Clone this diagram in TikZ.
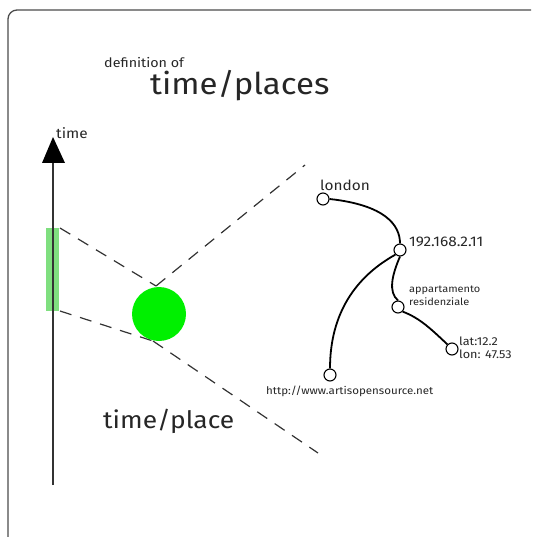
\documentclass[tikz,border=0pt]{standalone}
\usepackage{fontspec}
\setmainfont[FakeStretch=1.1]{Fira Sans}
\begin{document}
\begin{tikzpicture}[x=1pt,y=-1pt,
  frame/.style={draw=black!70, line width=1.3pt},
  guide/.style={draw=black!80, line width=1.2pt, dash pattern=on 12pt off 9pt},
  link/.style={draw=black, line width=1.8pt},
  place/.style={circle, draw=black, line width=1.1pt, fill=white, minimum size=12pt, inner sep=0pt},
  lbl/.style={inner sep=0pt, anchor=base west, text=black!85}]
\useasboundingbox (0,0) rectangle (536,537);
\draw[frame, rounded corners=9pt] (8,537) -- (8,10) -- (531,10);

% titles
\node[lbl, font=\fontsize{13}{15}\selectfont] (def) at (104,68) {definition of};
\node[lbl, font=\fontsize{30}{34}\selectfont] (title) at (150,95) {time/places};

% time axis
\coordinate (axisbot) at (53,485);
\coordinate (axistop) at (53,160);
\fill[green!75!black, opacity=0.5] (46,228) rectangle (59,311);
\draw[line width=2pt, black!80] (axisbot) -- (axistop);
\fill[black] (42,163) -- (53,137) -- (65,163) -- cycle;
\node[lbl, font=\fontsize{14}{16}\selectfont] (timelbl) at (56,139) {time};

% dashed projection
\coordinate (rt) at (60,228);
\coordinate (rb) at (60,311);
\coordinate (ct) at (156,286);
\coordinate (cb) at (153,341);
\coordinate (far1) at (305,165);
\coordinate (far2) at (318,453);
\draw[guide] (rt) -- (ct);
\draw[guide] (ct) -- (far1);
\draw[guide] (rb) -- (cb);
\draw[guide] (cb) -- (far2);

\node[circle, fill={rgb,255:red,0;green,240;blue,0}, minimum size=54pt, inner sep=0pt] (tp) at (159,314) {};
\node[lbl, font=\fontsize{24}{28}\selectfont] (tplbl) at (103,428) {time/place};

% graph
\node[place] (london) at (323,199) {};
\node[place] (ip) at (400,250) {};
\node[place] (app) at (398,307) {};
\node[place] (lat) at (452,349) {};
\node[place] (http) at (330,375) {};

\draw[link] (london.east) .. controls (385,205) and (400,225) .. (ip.north);
\draw[link] (ip.south west) .. controls (350,280) and (330,320) .. (http.north);
\draw[link] (ip.south) .. controls (392,275) and (388,292) .. (app.north);
\draw[link] (app.south east) .. controls (420,318) and (432,330) .. (lat.north west);

\node[lbl, font=\fontsize{14}{16}\selectfont] (l1) at (320,190) {london};
\node[lbl, font=\fontsize{14}{16}\selectfont] (l2) at (409,246) {192.168.2.11};
\node[lbl, font=\fontsize{10}{13}\selectfont, align=left, anchor=north west] (l3) at (409,286) {appartamento\\residenziale};
\node[lbl, font=\fontsize{11.5}{12.5}\selectfont, align=left, anchor=north west] (l4) at (459,337) {lat:12.2\\lon: 47.53};
\node[lbl, font=\fontsize{10.5}{12}\selectfont] (l5) at (266,394) {http://www.artisopensource.net};
\end{tikzpicture}
\end{document}
